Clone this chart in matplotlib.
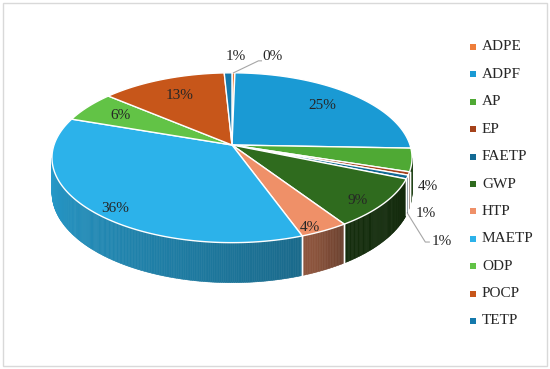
import numpy as np
import matplotlib.pyplot as plt
from matplotlib.patches import Polygon, Rectangle

plt.rcParams['font.family'] = ['Liberation Serif', 'DejaVu Serif']

names = ["ADPE", "ADPF", "AP", "EP", "FAETP", "GWP", "HTP", "MAETP", "ODP", "POCP", "TETP"]
values = [0.3, 25.3, 4.4, 0.6, 0.7, 9.4, 3.8, 35.8, 5.9, 13.0, 0.8]
colors = ["#EE7D3A", "#1A9AD4", "#4FA934", "#A5421B", "#126A94", "#2F6B1E",
          "#EF9068", "#2CB2EA", "#62C346", "#C7561A", "#1479AC"]

# pie geometry in pixels (perspective ellipse, like excel 3-D pie)
CX, CY = 232, 145
R, C, K, E = 178, 83, 0.15, 34


def proj(t, r=1.0, z=0.0):
    t = np.radians(t)
    X = r * np.cos(t)
    Y = r * np.sin(t)
    w = 1 + K * Y
    return CX + R * X / w, CY - C * Y / w + E * z / w


def shade(t):
    return np.interp(t, [-175, -100, -66, -55, -10], [0.88, 0.68, 0.58, 0.42, 0.38])


def darker(col, f):
    rgb = np.array([int(col[i:i + 2], 16) for i in (1, 3, 5)]) / 255.0
    return tuple(rgb * f)


fig = plt.figure(figsize=(5.5, 3.69), dpi=100)
ax = fig.add_axes([0, 0, 1, 1])
ax.set_xlim(0, 550)
ax.set_ylim(369, 0)
ax.axis("off")
ax.add_patch(Rectangle((3, 3), 544, 363, fill=False, edgecolor="#D9D9D9", lw=1))

frac = np.array(values) / sum(values)
cum = np.concatenate([[0], np.cumsum(frac)])
t_start = 90 - 360 * cum[:-1]
t_end = 90 - 360 * cum[1:]

# visible part of the side wall
tvis_lo = -180 + np.degrees(np.arcsin(K))
tvis_hi = -np.degrees(np.arcsin(K))

#------- side walls -------#
for i in range(len(values)):
    a = max(t_end[i], tvis_lo)
    b = min(t_start[i], tvis_hi)
    if a >= b:
        continue
    ts = np.linspace(a, b, max(int((b - a) * 2), 2))
    for t0, t1 in zip(ts[:-1], ts[1:]):
        p0, p1 = proj(t0), proj(t1)
        q0, q1 = proj(t0, z=1), proj(t1, z=1)
        col = darker(colors[i], shade(0.5 * (t0 + t1)))
        ax.add_patch(Polygon([p0, p1, q1, q0], closed=True, facecolor=col,
                             edgecolor=col, lw=0.4))
    for tb in (a, b):
        if tvis_lo < tb < tvis_hi:
            ax.plot(*zip(proj(tb), proj(tb, z=1)), color="white", lw=1)

#------- top faces -------#
for i in range(len(values)):
    ts = np.linspace(t_start[i], t_end[i], max(int(abs(t_start[i] - t_end[i]) * 2), 2))
    pts = [(CX, CY)] + [proj(t) for t in ts]
    ax.add_patch(Polygon(pts, closed=True, facecolor=colors[i], edgecolor="white",
                         lw=1, joinstyle="round"))

#------- data labels -------#
tc = "#262626"
outside = {0: (29, -16, [(25, -12), (28, -12)]),
           2: (6, 27, None),
           3: (7, 40, None),
           10: (-2, -16, None)}
for i in range(len(values)):
    tm = 0.5 * (t_start[i] + t_end[i])
    lab = f"{values[i]:.0f}%"
    if i == 4:
        axx, ayy = proj(tm, z=1)
        ax.plot([axx, axx + 18, axx + 22], [ayy, ayy + 29, ayy + 29], color="#A6A6A6", lw=0.8)
        ax.text(axx + 24, ayy + 28, lab, ha="left", va="center", fontsize=11, color=tc)
    elif i in outside:
        axx, ayy = proj(tm)
        dx, dy, lead = outside[i]
        if lead:
            ax.plot([axx] + [axx + p[0] for p in lead], [ayy] + [ayy + p[1] for p in lead],
                    color="#A6A6A6", lw=0.8)
            ax.text(axx + dx, ayy + dy, lab, ha="left", va="center", fontsize=11, color=tc)
        else:
            ax.text(axx + dx, ayy + dy, lab, ha="left", va="center", fontsize=11, color=tc)
    else:
        s = np.sin(np.radians(tm))
        r = 0.8 - 0.07 * s
        z = 0.3 * max(0.0, -s)
        lx, ly = proj(tm, r, z)
        ax.text(lx, ly, lab, ha="center", va="center", fontsize=11, color=tc)

#------- legend -------#
for i, nm in enumerate(names):
    y = 47 + 27.4 * i
    ax.add_patch(Rectangle((470, y - 3), 6, 6, facecolor=colors[i], edgecolor="none"))
    ax.text(482, y, nm, ha="left", va="center", fontsize=11, color=tc)

fig.savefig("out.png", dpi=100)
